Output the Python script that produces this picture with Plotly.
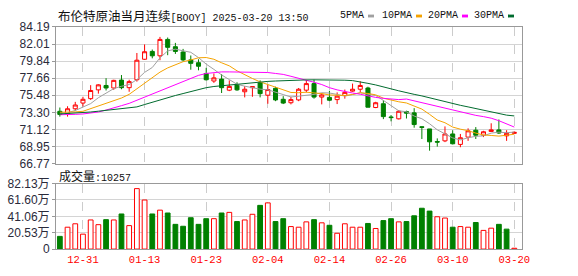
import plotly.graph_objects as go

# ---------------- data ----------------
dates = ["12-26", "12-27", "12-30", "12-31", "01-02", "01-03", "01-06", "01-07", "01-08", "01-09",
         "01-10", "01-13", "01-14", "01-15", "01-16", "01-17", "01-20", "01-21", "01-22", "01-23",
         "01-24", "01-27", "01-28", "01-29", "01-30", "01-31", "02-03", "02-04", "02-05", "02-06",
         "02-07", "02-10", "02-11", "02-12", "02-13", "02-14", "02-17", "02-18", "02-19", "02-20",
         "02-21", "02-24", "02-25", "02-26", "02-27", "02-28", "03-03", "03-04", "03-05", "03-06",
         "03-07", "03-10", "03-11", "03-12", "03-13", "03-14", "03-17", "03-18", "03-19", "03-20"]

opens = [73.44, 73.12, 73.76, 74.49, 75.05, 76.17, 76.73, 76.41, 77.42, 76.45,
         77.46, 80.07, 81.07, 80.51, 82.60, 81.67, 80.99, 79.99, 79.63, 78.26,
         77.30, 77.54, 76.13, 76.81, 75.93, 76.45, 77.06, 75.49, 76.37, 74.97,
         74.53, 74.89, 76.13, 76.97, 75.25, 75.21, 74.93, 75.45, 76.01, 76.25,
         76.41, 73.92, 74.40, 72.72, 72.48, 73.40, 73.24, 71.47, 71.19, 69.59,
         69.67, 70.55, 69.22, 70.15, 71.03, 70.39, 70.87, 71.07, 70.31, 70.63]
highs = [73.92, 74.08, 74.64, 75.29, 76.77, 76.89, 77.66, 77.46, 78.06, 77.46,
         80.87, 81.96, 81.31, 82.92, 82.84, 82.16, 81.39, 80.55, 80.07, 78.98,
         78.26, 78.18, 77.38, 77.14, 76.65, 76.57, 77.38, 76.81, 76.57, 75.37,
         75.29, 76.41, 77.46, 77.46, 75.77, 76.05, 75.85, 76.21, 76.97, 77.26,
         76.57, 74.65, 74.85, 72.96, 73.60, 73.52, 73.84, 71.51, 71.19, 69.99,
         71.51, 71.03, 70.55, 71.27, 71.43, 70.95, 71.91, 72.40, 71.03, 70.87]
lows = [72.76, 72.76, 73.52, 74.04, 74.89, 75.69, 76.09, 76.17, 76.25, 75.93,
        77.22, 79.99, 80.19, 79.95, 80.59, 80.75, 79.79, 78.74, 78.66, 77.34,
        77.06, 75.77, 76.01, 76.05, 75.21, 75.29, 75.21, 74.40, 74.73, 74.36,
        74.32, 74.73, 75.85, 75.05, 74.32, 74.73, 74.36, 75.05, 75.93, 75.85,
        73.96, 73.84, 72.44, 72.16, 72.40, 72.52, 71.35, 69.91, 68.42, 68.94,
        69.51, 69.22, 68.86, 69.67, 69.91, 70.15, 70.87, 70.55, 69.67, 70.55]
closes = [73.04, 73.76, 74.24, 74.97, 76.09, 76.81, 76.41, 77.38, 76.45, 77.22,
          79.95, 81.03, 80.51, 82.60, 81.59, 81.07, 79.99, 79.55, 79.18, 77.46,
          77.70, 76.45, 76.61, 76.17, 76.25, 76.57, 75.69, 76.21, 74.89, 74.49,
          74.93, 76.25, 76.97, 75.25, 75.53, 74.85, 75.37, 75.85, 76.25, 76.73,
          73.96, 74.53, 72.76, 72.64, 73.44, 73.20, 71.75, 71.39, 69.55, 69.51,
          70.55, 69.30, 70.07, 70.95, 70.39, 70.83, 71.07, 70.67, 70.63, 70.75]

ma5 = [73.18, 73.26, 73.54, 73.94, 74.42, 75.17, 75.70, 76.33, 76.63, 76.85,
       77.48, 78.40, 79.02, 80.25, 81.14, 81.36, 81.15, 80.96, 80.28, 79.45,
       78.78, 78.07, 77.48, 76.88, 76.64, 76.41, 76.26, 76.18, 75.92, 75.57,
       75.26, 75.35, 75.51, 75.59, 75.80, 75.77, 75.59, 75.37, 75.58, 75.81,
       75.62, 75.45, 74.83, 74.12, 73.50, 73.38, 72.83, 72.49, 71.85, 71.08,
       70.54, 70.05, 69.79, 70.07, 70.25, 70.31, 70.66, 70.78, 70.71, 70.79]
ma10 = [73.32, 73.32, 73.36, 73.44, 73.76, 74.08, 74.45, 74.73, 75.13, 75.60,
        76.33, 77.05, 77.67, 78.43, 78.97, 79.40, 79.76, 79.98, 80.26, 80.29,
        80.07, 79.62, 79.23, 78.60, 78.07, 77.62, 77.19, 76.85, 76.42, 76.12,
        75.84, 75.81, 75.87, 75.78, 75.70, 75.52, 75.49, 75.45, 75.58, 75.80,
        75.71, 75.54, 75.11, 74.85, 74.65, 74.50, 74.15, 73.72, 73.05, 72.33,
        71.98, 71.43, 71.16, 70.97, 70.66, 70.42, 70.36, 70.28, 70.39, 70.52]
ma20 = [73.00, 73.00, 73.05, 73.10, 73.20, 73.35, 73.60, 73.85, 74.16, 74.45,
        74.85, 75.25, 75.65, 76.05, 76.37, 76.85, 77.26, 77.66, 78.02, 78.26,
        78.38, 78.46, 78.46, 78.46, 78.46, 78.45, 78.42, 78.38, 78.26, 78.14,
        77.90, 77.66, 77.46, 77.14, 76.85, 76.45, 76.17, 75.93, 75.77, 75.61,
        75.37, 75.21, 75.09, 74.97, 74.93, 75.00, 74.77, 74.57, 74.32, 74.08,
        73.84, 73.60, 73.32, 73.12, 72.92, 72.76, 72.56, 72.24, 71.83, 71.43]
ma30 = [73.10, 73.15, 73.20, 73.30, 73.35, 73.45, 73.55, 73.68, 73.80, 73.90,
        74.00, 74.30, 74.60, 74.90, 75.20, 75.45, 75.70, 75.95, 76.15, 76.45,
        76.60, 76.70, 76.80, 76.90, 77.00, 77.05, 77.15, 77.25, 77.30, 77.35,
        77.40, 77.42, 77.44, 77.45, 77.45, 77.45, 77.42, 77.40, 77.35, 77.20,
        77.00, 76.80, 76.50, 76.30, 76.05, 75.80, 75.60, 75.40, 75.15, 74.95,
        74.70, 74.45, 74.20, 74.00, 73.80, 73.55, 73.35, 73.15, 72.95, 72.85]

# volume in units of 万 (10,000 lots)
volume_wan = [15.9, 27.4, 31.7, 18.7, 36.5, 30.6, 36.9, 36.5, 44.0, 29.4,
              75.8, 61.5, 44.0, 48.8, 45.2, 31.0, 28.6, 39.3, 31.0, 38.1,
              38.1, 45.2, 46.0, 34.5, 36.5, 43.6, 54.8, 57.9, 34.5, 38.1,
              28.2, 27.4, 34.1, 36.9, 32.9, 29.8, 19.8, 31.7, 27.4, 27.4,
              32.1, 25.8, 35.7, 38.1, 34.1, 34.5, 41.7, 51.2, 47.6, 40.5,
              38.9, 27.4, 28.2, 27.4, 33.3, 23.4, 26.2, 31.0, 25.0, 1.0257]
volume_red = ["G", "R", "R", "R", "R", "R", "G", "R", "G", "R",
              "R", "R", "G", "R", "G", "G", "G", "G", "G", "G",
              "R", "G", "R", "G", "R", "R", "G", "R", "G", "G",
              "R", "R", "R", "G", "R", "G", "R", "R", "R", "R",
              "G", "R", "G", "G", "R", "G", "G", "G", "G", "R",
              "R", "G", "R", "R", "G", "R", "R", "G", "G", "R"]
last_volume = 10257

price_ticks = [84.19, 82.01, 79.84, 77.66, 75.48, 73.30, 71.12, 68.95, 66.77]
price_tick_text = ["84.19", "82.01", "79.84", "77.66", "75.48", "73.30", "71.12", "68.95", "66.77"]
vol_ticks = [0, 20.53, 41.06, 61.60, 82.13]
vol_tick_text = ["0", "20.53万", "41.06万", "61.60万", "82.13万"]
date_ticks = ["12-31", "01-13", "01-23", "02-04", "02-14", "02-26", "03-10", "03-20"]

legend_names = ["5PMA", "10PMA", "20PMA", "30PMA"]
ma_colors = ["#a0a0a0", "#f5a300", "#ff00ff", "#006b2e"]

RED = "#ff0000"
GREEN = "#008000"
W, H = 578, 276
L, R = 56, 56

def px_x(x):
    return (x - L) / (W - L - R)

def px_y(y):
    return 1 - y / H

# ---------------- figure ----------------
fig = go.Figure()

fig.add_trace(go.Candlestick(
    x=dates, open=opens, high=highs, low=lows, close=closes,
    increasing=dict(line=dict(color=RED, width=1), fillcolor="#ffffff"),
    decreasing=dict(line=dict(color=GREEN, width=1), fillcolor=GREEN),
    whiskerwidth=0, showlegend=False, hoverinfo="skip",
    xaxis="x", yaxis="y"))

for vals, col in zip([ma5, ma10, ma20, ma30], ma_colors):
    fig.add_trace(go.Scatter(x=dates, y=vals, mode="lines",
                             line=dict(color=col, width=1),
                             showlegend=False, hoverinfo="skip",
                             xaxis="x", yaxis="y"))

fig.add_trace(go.Bar(
    x=dates, y=volume_wan, width=0.62,
    marker=dict(color=["#ffffff" if c == "R" else GREEN for c in volume_red],
                line=dict(color=[RED if c == "R" else GREEN for c in volume_red], width=1)),
    showlegend=False, hoverinfo="skip", xaxis="x2", yaxis="y2"))

axis_common = dict(showline=True, linecolor="#999999", linewidth=1, mirror=True,
                   zeroline=False, fixedrange=True)
tick_font = dict(family="Liberation Sans, Noto Sans CJK SC", size=12, color="#2a2a3a")

fig.update_layout(
    width=W, height=H,
    margin=dict(l=L, r=R, t=0, b=0, pad=0),
    paper_bgcolor="#ffffff", plot_bgcolor="#ffffff",
    showlegend=False,
    boxgap=0.25,
    xaxis=dict(domain=[0, 1], anchor="y", type="category", categoryorder="array",
               categoryarray=dates, range=[-0.5, 60.0],
               tickvals=date_ticks, showticklabels=False, ticks="",
               showgrid=True, gridcolor="#cccccc", griddash="dash", gridwidth=1,
               rangeslider=dict(visible=False), **axis_common),
    yaxis=dict(domain=[px_y(165), px_y(21)], anchor="x", range=[66.77, 84.19],
               tickvals=price_ticks, ticktext=price_tick_text,
               ticks="outside", ticklen=3, tickcolor="#999999",
               showgrid=True, gridcolor="#d4d4d4", gridwidth=1,
               tickfont=tick_font, **axis_common),
    xaxis2=dict(domain=[0, 1], anchor="y2", type="category", categoryorder="array",
                categoryarray=dates, range=[-0.5, 60.0],
                tickvals=date_ticks, ticktext=date_ticks, ticks="",
                tickfont=dict(family="Liberation Mono", size=10.5, color=RED),
                showgrid=True, gridcolor="#cccccc", griddash="dash", gridwidth=1,
                **axis_common),
    yaxis2=dict(domain=[px_y(255), px_y(186)], anchor="x2", range=[0, 82.13],
                tickvals=vol_ticks, ticktext=vol_tick_text,
                ticks="outside", ticklen=3, tickcolor="#999999",
                showgrid=True, gridcolor="#d4d4d4", gridwidth=1,
                tickfont=tick_font, **axis_common),
)

annotations = []
annotations.append(dict(
    xref="paper", yref="paper", x=0, y=px_y(9), xanchor="left", yanchor="middle",
    showarrow=False,
    text="布伦特原油当月连续<span style='font-family:Liberation Mono;font-size:10px'>[BOOY] 2025-03-20 13:50</span>",
    font=dict(family="Noto Sans CJK SC", size=12.5, color="#111111")))
annotations.append(dict(
    xref="paper", yref="paper", x=px_x(57), y=px_y(177), xanchor="left", yanchor="middle",
    showarrow=False,
    text="成交量<span style='font-family:Liberation Mono;font-size:10px'>:" + str(last_volume) + "</span>",
    font=dict(family="Noto Sans CJK SC", size=12, color="#111111")))

legend_x = [338, 380, 426, 472]
legend_sq = [368, 416, 462, 508]
shapes = []
for name, col, lx, sx in zip(legend_names, ma_colors, legend_x, legend_sq):
    annotations.append(dict(
        xref="paper", yref="paper", x=px_x(lx), y=px_y(9), xanchor="left", yanchor="middle",
        showarrow=False, text=name,
        font=dict(family="Liberation Mono", size=10, color="#111111")))
    shapes.append(dict(type="rect", xref="paper", yref="paper",
                       x0=px_x(sx), x1=px_x(sx + 6), y0=px_y(11), y1=px_y(8),
                       fillcolor=col, line=dict(width=0)))

fig.update_layout(annotations=annotations, shapes=shapes)

fig.write_html("out.html")
